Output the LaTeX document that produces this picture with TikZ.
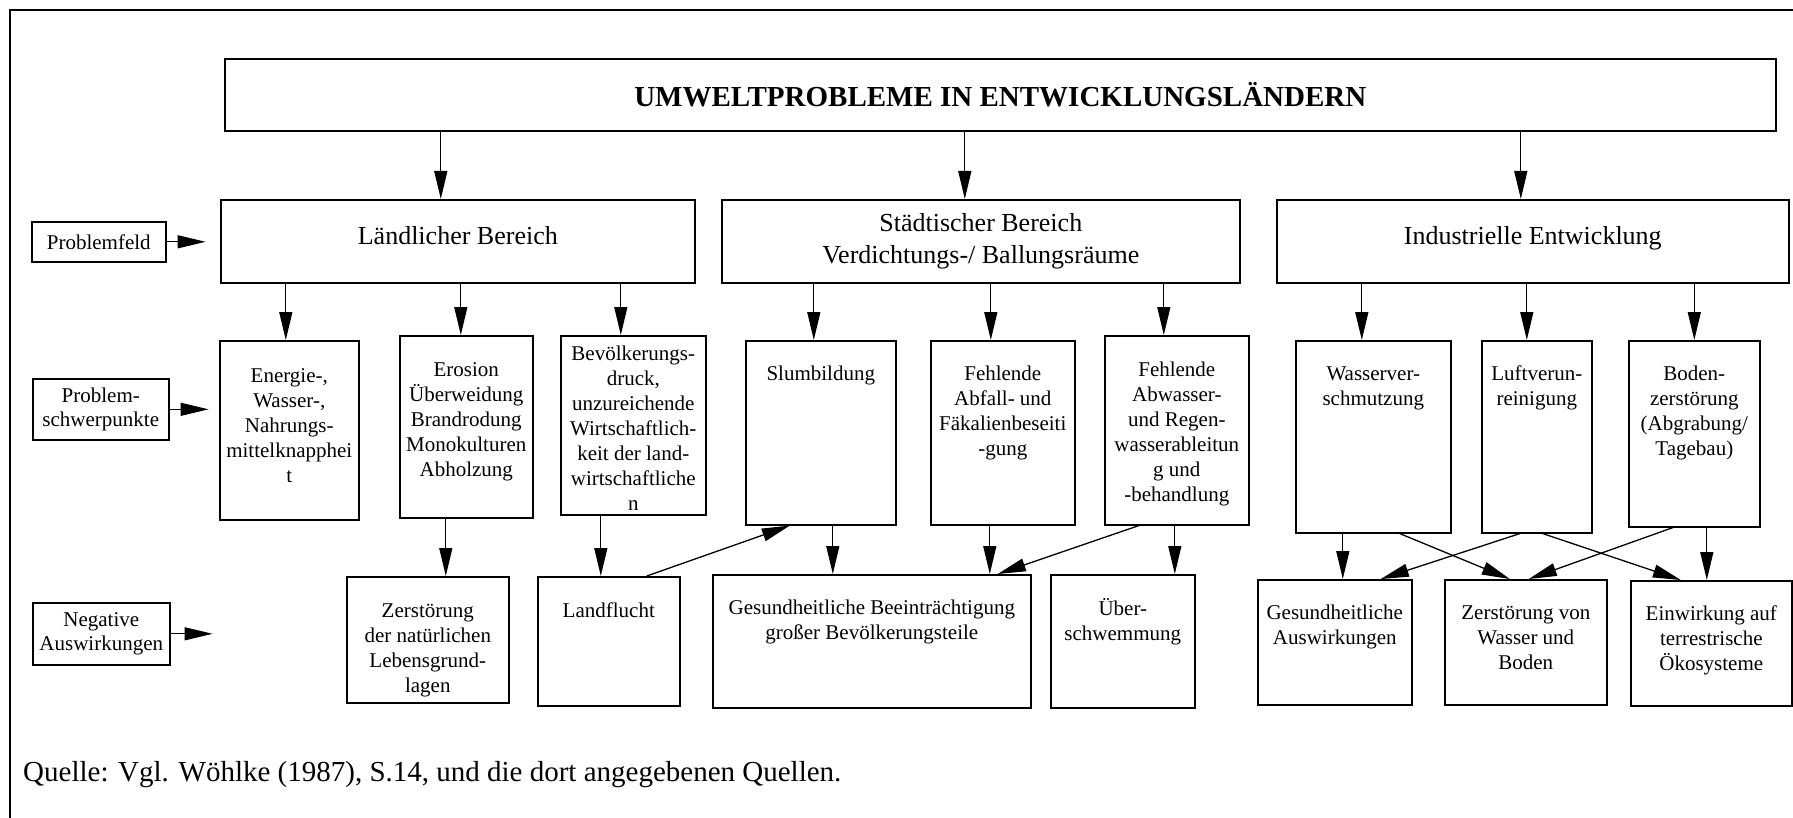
\documentclass[tikz,border=0pt]{standalone}
\usepackage{fontspec}
\setmainfont{Liberation Serif}
\usepackage{tikz}
\usetikzlibrary{positioning,arrows.meta}

\begin{document}
\begin{tikzpicture}[x=1pt, y=-1pt,
			box/.style={draw, line width=1.6pt, inner sep=0pt, anchor=north west, align=center, text height=40pt, font=\fontsize{21}{25}\selectfont},
			cat/.style={draw, line width=1.6pt, inner sep=0pt, anchor=north west, align=center, minimum height=83pt, font=\fontsize{26}{31.5}\selectfont},
			lbl/.style={draw, line width=1.6pt, inner sep=0pt, anchor=north west, align=center, font=\fontsize{21}{24}\selectfont},
			edge/.style={line width=1.3pt, -{Triangle[length=28pt, width=13pt]}}
		]
		\useasboundingbox (0,0) rectangle (1793,818);
		\clip (0,0) rectangle (1793,818);
		\draw[line width=1.6pt] (10,830) -- (10,10) -- (1805,10);

		\node[cat, minimum width=1551pt, minimum height=72pt, font=\fontsize{29}{34}\selectfont\bfseries] (t0) at (224,58) {UMWELTPROBLEME IN ENTWICKLUNGSLÄNDERN};
		\node[cat, minimum width=474pt, text depth=12pt] (b1) at (220,199) {Ländlicher Bereich};
		\node[cat, minimum width=518pt] (b2) at (721,199) {Städtischer Bereich\\Verdichtungs-/ Ballungsräume};
		\node[cat, minimum width=512pt, text depth=12pt] (b3) at (1276,199) {Industrielle Entwicklung};

		\node[lbl, minimum width=134pt, minimum height=40pt] (l1) at (31,221) {Problemfeld};
		\node[lbl, minimum width=136pt, minimum height=61pt] (l2) at (32,378) {Problem-\\schwerpunkte};
		\node[lbl, minimum width=137pt, minimum height=62pt] (l3) at (32,602) {Negative\\Auswirkungen};

		\node[box, minimum width=139pt, text height=142pt, text depth=37pt] (p1) at (219,340) {Energie-,\\Wasser-,\\Nahrungs-\\mittelknapphei\\t};
		\node[box, minimum width=133pt, text height=141pt, text depth=41pt] (p2) at (399,335) {Erosion\\Überweidung\\Brandrodung\\Monokulturen\\Abholzung};
		\node[box, minimum width=145pt, text height=175pt, text depth=4pt] (p3) at (560,335) {Bevölkerungs-\\druck,\\unzureichende\\Wirtschaftlich-\\keit der land-\\wirtschaftliche\\n};
		\node[box, minimum width=150pt, text depth=144pt] (p4) at (745,340) {Slumbildung};
		\node[box, minimum width=144pt, text height=115pt, text depth=69pt] (p5) at (930,340) {Fehlende\\Abfall- und\\Fäkalienbeseiti\\-gung};
		\node[box, minimum width=144pt, text height=166pt, text depth=23pt] (p6) at (1104,335) {Fehlende\\Abwasser-\\und Regen-\\wasserableitun\\g und\\-behandlung};
		\node[box, minimum width=155pt, text height=65pt, text depth=127pt] (p7) at (1295,340) {Wasserver-\\schmutzung};
		\node[box, minimum width=110pt, text height=65pt, text depth=127pt] (p8) at (1481,340) {Luftverun-\\reinigung};
		\node[box, minimum width=131pt, text height=115pt, text depth=71pt] (p9) at (1628,340) {Boden-\\zerstörung\\(Abgrabung/\\Tagebau)};

		\node[box, minimum width=162pt, text height=116pt, text depth=10pt] (n1) at (346,576) {Zerstörung\\der natürlichen\\Lebensgrund-\\lagen};
		\node[box, minimum width=142pt, text height=41pt, text depth=88pt] (n2) at (537,576) {Landflucht};
		\node[box, minimum width=318pt, text height=65pt, text depth=68pt] (n3) at (712,574) {Gesundheitliche Beeinträchtigung\\großer Bevölkerungsteile};
		\node[box, minimum width=144pt, text height=66pt, text depth=67pt] (n4) at (1050,574) {Über-\\schwemmung};
		\node[box, minimum width=154pt, text height=65pt, text depth=60pt] (n5) at (1257,579) {Gesundheitliche\\Auswirkungen};
		\node[box, minimum width=162pt, text height=90pt, text depth=35pt] (n6) at (1444,579) {Zerstörung von\\Wasser und\\Boden};
		\node[box, minimum width=161pt, text height=90pt, text depth=35pt] (n7) at (1630,580) {Einwirkung auf\\terrestrische\\Ökosysteme};

		\node[anchor=base west, inner sep=0pt, font=\fontsize{29}{34}\selectfont] (q0) at (23,781) {Quelle: Vgl. Wöhlke (1987), S.14, und die dort angegebenen Quellen.};

		\draw[edge] ([xshift=-17]b1.north |- t0.south) -- ([xshift=-17]b1.north);
		\draw[edge] ([xshift=-16]b2.north |- t0.south) -- ([xshift=-16]b2.north);
		\draw[edge] ([xshift=-12]b3.north |- t0.south) -- ([xshift=-12]b3.north);

		\draw[edge] (l1.east) -- ([xshift=39]l1.east);
		\draw[edge] (l2.east) -- ([xshift=39]l2.east);
		\draw[edge] (l3.east) -- ([xshift=42]l3.east);

		\draw[edge] ([xshift=-3.5]p1.north |- b1.south) -- ([xshift=-3.5]p1.north);
		\draw[edge] ([xshift=-5.5]p2.north |- b1.south) -- ([xshift=-5.5]p2.north);
		\draw[edge] ([xshift=-12.5]p3.north |- b1.south) -- ([xshift=-12.5]p3.north);
		\draw[edge] ([xshift=-7]p4.north |- b2.south) -- ([xshift=-7]p4.north);
		\draw[edge] ([xshift=-12]p5.north |- b2.south) -- ([xshift=-12]p5.north);
		\draw[edge] ([xshift=-13]p6.north |- b2.south) -- ([xshift=-13]p6.north);
		\draw[edge] ([xshift=-11.5]p7.north |- b3.south) -- ([xshift=-11.5]p7.north);
		\draw[edge] ([xshift=-10]p8.north |- b3.south) -- ([xshift=-10]p8.north);
		\draw[edge] (p9.north |- b3.south) -- (p9.north);

		\draw[edge] ([xshift=18]n1.north |- p2.south) -- ([xshift=18]n1.north);
		\draw[edge] ([xshift=-8]n2.north |- p3.south) -- ([xshift=-8]n2.north);
		\draw[edge] ([xshift=38]n2.north) -- ([xshift=-31]p4.south);
		\draw[edge] ([xshift=12]p4.south) -- ([xshift=12]p4.south |- n3.north);
		\draw[edge] ([xshift=-13]p5.south) -- ([xshift=-13]p5.south |- n3.north);
		\draw[edge] ([xshift=-38]p6.south) -- ([xshift=126]n3.north);
		\draw[edge] ([xshift=-2]p6.south) -- ([xshift=-2]p6.south |- n4.north);
		%\draw[edge] (p7) -- (n5);
		\draw[edge] ([xshift=8]n5.north |- p7.south) -- ([xshift=8]n5.north);
		\draw[edge] ([xshift=26.5]p7.south) -- ([xshift=-16]n6.north);
		\draw[edge] ([xshift=-17]p8.south) -- ([xshift=46]n5.north);
		\draw[edge] ([xshift=6]p8.south) -- ([xshift=-30.5]n7.north);
		\draw[edge] ([xshift=-21.5]p9.south) -- ([xshift=3]n6.north);
		\draw[edge] ([xshift=12.5]p9.south) -- ([xshift=12.5]p9.south |- n7.north);
\end{tikzpicture}
\end{document}
